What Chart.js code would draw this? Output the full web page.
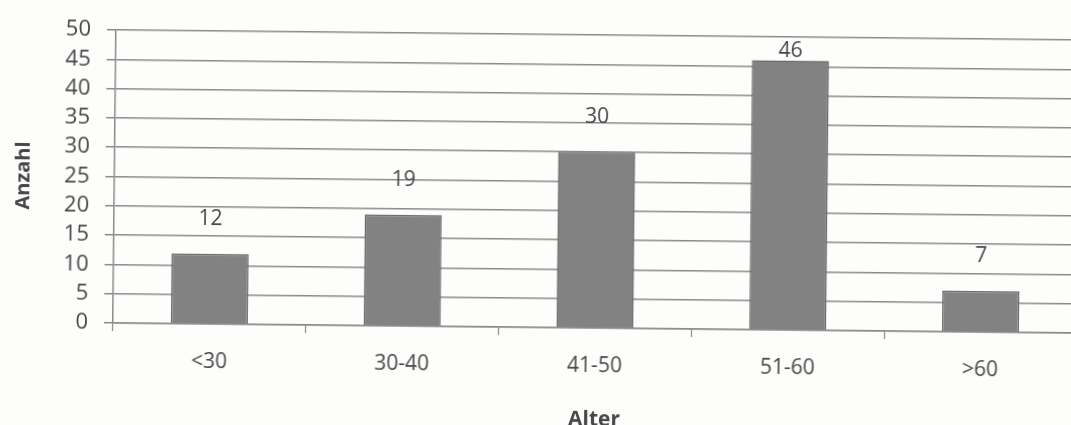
<!DOCTYPE html>
<html>
<head>
<meta charset="utf-8">
<script src="https://cdn.jsdelivr.net/npm/chart.js@4/dist/chart.umd.min.js"></script>
<style>
  html, body { margin: 0; padding: 0; background: #fdfdfc; overflow: hidden; width: 1071px; height: 425px; }
  #wrap { width: 1084px; height: 428px; transform-origin: 116px 30px; transform: rotate(0.6deg); }
  canvas { display: block; }
</style>
</head>
<body>
<div id="wrap"><canvas id="c" width="1084" height="428"></canvas></div>
<script>
// Altersgruppen und Anzahl je Gruppe
const categories = ['<30', '30-40', '41-50', '51-60', '>60'];
const counts = [12, 19, 30, 46, 7];
const yTicks = [0, 5, 10, 15, 20, 25, 30, 35, 40, 45, 50];

const textColor = '#474747';
const gridColor = '#8a8a8a';
const fontFamily = '"Open Sans", Lato, sans-serif';

// Wertbeschriftung über jedem Balken
const valueLabels = {
  id: 'valueLabels',
  afterDatasetsDraw(chart) {
    const { ctx, chartArea } = chart;
    const meta = chart.getDatasetMeta(0);
    ctx.save();
    ctx.fillStyle = textColor;
    ctx.font = '21px ' + fontFamily;
    ctx.textAlign = 'center';
    ctx.textBaseline = 'middle';
    meta.data.forEach((bar, i) => {
      const y = Math.max(bar.y - 35, chartArea.top + 14);
      ctx.fillText(String(counts[i]), bar.x, y);
    });
    ctx.restore();
  }
};

new Chart(document.getElementById('c'), {
  type: 'bar',
  data: {
    labels: categories,
    datasets: [{
      data: counts,
      backgroundColor: '#828282',
      borderColor: '#6a6a6a',
      borderWidth: 1.5,
      barPercentage: 0.8,
      categoryPercentage: 0.5
    }]
  },
  options: {
    responsive: false,
    animation: false,
    layout: { padding: { top: 30, right: 4, left: 0, bottom: 0 } },
    plugins: { legend: { display: false }, tooltip: { enabled: false } },
    scales: {
      x: {
        grid: { display: true, drawOnChartArea: false, drawTicks: true, tickLength: 8, color: gridColor, lineWidth: 1.2 },
        border: { display: true, color: gridColor, width: 1.5 },
        ticks: { color: textColor, font: { size: 21, family: fontFamily }, padding: 17 },
        title: { display: true, text: 'Alter', color: textColor, font: { size: 21, weight: 'bold', family: fontFamily }, padding: { top: 0, bottom: 0 } },
        afterFit(scale) { scale.height = 105; }
      },
      y: {
        min: 0,
        max: 50,
        afterBuildTicks(scale) { scale.ticks = yTicks.map(v => ({ value: v })); },
        grid: { color: gridColor, lineWidth: 1.5, tickLength: 9, drawTicks: true },
        border: { display: true, color: gridColor, width: 1.5 },
        ticks: { color: textColor, font: { size: 22, family: fontFamily }, padding: 16, autoSkip: false },
        title: { display: true, text: 'Anzahl', color: textColor, font: { size: 20, weight: 'bold', family: fontFamily }, padding: { top: 13, bottom: 0 } },
        afterFit(scale) { scale.width = 116; }
      }
    }
  },
  plugins: [valueLabels]
});
</script>
</body>
</html>
